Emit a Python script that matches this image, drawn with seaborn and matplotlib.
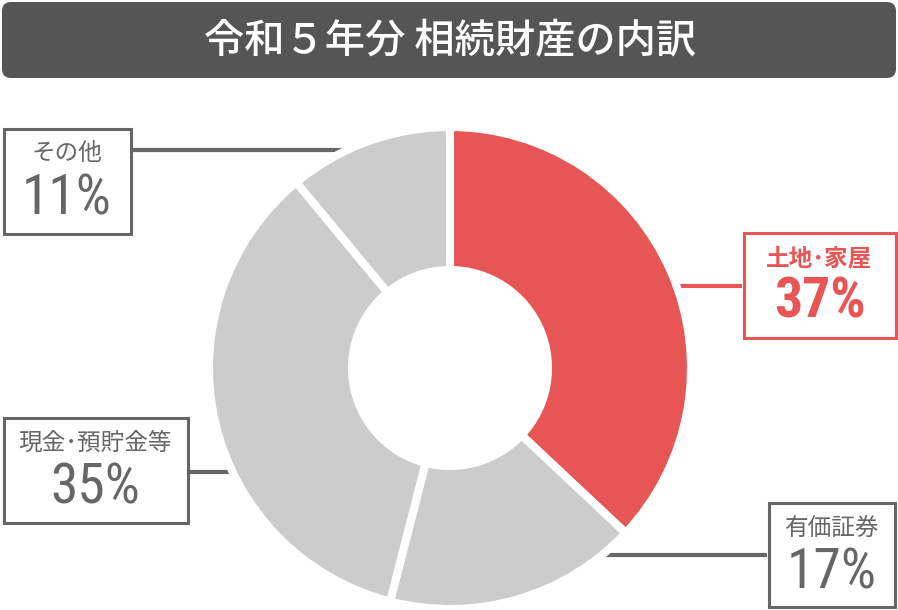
import numpy as np
import matplotlib
matplotlib.use("Agg")
import matplotlib.pyplot as plt
from matplotlib import font_manager
from matplotlib.patches import FancyBboxPatch, Rectangle
import seaborn as sns

# data
categories = ["土地･家屋", "有価証券", "現金･預貯金等", "その他"]
shares = [37, 17, 35, 11]
title = "令和５年分 相続財産の内訳"

red = "#E85555"
light = "#CCCCCC"
dark = "#666666"
slice_colors = [red, light, light, light]

sns.set_theme(style="white")
plt.rcParams['font.family'] = ['Noto Sans CJK JP', 'DejaVu Sans']

names = {f.name for f in font_manager.fontManager.ttflist}
pct_font = 'Roboto'
for cand in ['Roboto Condensed', 'Liberation Sans Narrow']:
    if cand in names:
        pct_font = cand
        break

W, H = 898, 610
fig = plt.figure(figsize=(W / 100, H / 100), dpi=100)
ax = fig.add_axes([0, 0, 1, 1])


def Y(y):
    # pixel row from the top -> data y
    return H - y


# donut
cx, cy, r = 450, 368, 241
ax.pie(shares, colors=slice_colors, startangle=90, counterclock=False,
       center=(cx, Y(cy)), radius=r, frame=True,
       wedgeprops=dict(width=r - 98, edgecolor="white", linewidth=5.8, zorder=3))
ax.set_xlim(0, W)
ax.set_ylim(0, H)
ax.set_aspect('equal')
ax.axis('off')

# title bar
ax.add_patch(FancyBboxPatch((2, Y(78)), 894, 76,
                            boxstyle="round,pad=0,rounding_size=9",
                            facecolor="#555555", edgecolor="none"))
ax.text(450, Y(42), title, color="white", fontsize=29, fontweight="medium",
        ha="center", va="center")

# label boxes: (left, top, width, height), leader line (x0, x1, y)
boxes = [(742, 231, 155, 108), (767, 501, 129, 107),
         (2, 416, 187, 108), (2, 127, 130, 108)]
leaders = [(660, 742, 286), (585, 767, 555), (189, 250, 472), (132, 370, 150)]

for i, (name, val) in enumerate(zip(categories, shares)):
    bx, by, bw, bh = boxes[i]
    col = red if i == 0 else dark
    x0, x1, ly = leaders[i]
    ax.plot([x0, x1], [Y(ly), Y(ly)], color=col, lw=3, zorder=1,
            solid_capstyle="butt")
    ax.add_patch(Rectangle((bx + 1.5, Y(by + bh) + 1.5), bw - 3, bh - 3,
                           facecolor="white", edgecolor=col, lw=2.2, zorder=4))
    ax.text(bx + bw / 2, Y(by + 27), name, color=col, fontsize=17,
            fontweight="bold" if i == 0 else "normal",
            ha="center", va="center", zorder=5)
    ax.text(bx + bw / 2, Y(by + 72), f"{val}%", color=col, fontsize=40,
            family=pct_font, fontweight="bold" if i == 0 else "normal",
            ha="center", va="center", zorder=5)

fig.savefig("out.png", dpi=100)
